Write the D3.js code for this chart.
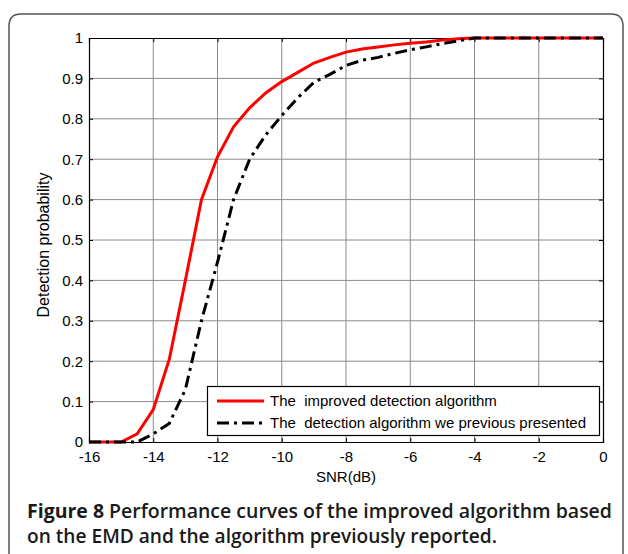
<!DOCTYPE html>
<html><head><meta charset="utf-8">
<script src="https://cdn.jsdelivr.net/npm/d3@7"></script>
<style>body{margin:0;background:#fff}svg{display:block}</style>
</head><body>
<script>
const snr = [-16,-15.5,-15,-14.5,-14,-13.5,-13,-12.5,-12,-11.5,-11,-10.5,-10,-9.5,-9,-8.5,-8,-7.5,-7,-6.5,-6,-5.5,-5,-4.5,-4,-3.5,-3,-2.5,-2,-1.5,-1,-0.5,0];
const improved = [0,0,0,0.02,0.08,0.205,0.40,0.60,0.706,0.78,0.827,0.864,0.892,0.915,0.938,0.952,0.965,0.973,0.978,0.983,0.987,0.99,0.995,0.998,1,1,1,1,1,1,1,1,1];
const previous = [0,0,0,0,0.02,0.046,0.13,0.30,0.445,0.60,0.70,0.76,0.808,0.852,0.89,0.91,0.932,0.945,0.952,0.962,0.971,0.978,0.986,0.993,1,1,1,1,1,1,1,1,1];
const xTicks = [-16,-14,-12,-10,-8,-6,-4,-2,0];
const yTicks = [0,0.1,0.2,0.3,0.4,0.5,0.6,0.7,0.8,0.9,1];
const legendLabels = ["The  improved detection algorithm","The  detection algorithm we previous presented"];

const W=628,H=554;
const svg=d3.select("body").append("svg").attr("width",W).attr("height",H);
// frame
svg.append("path").attr("d","M9,580 L9,26 Q9,14 21,14 L611,14 Q623,14 623,26 L623,580")
  .attr("fill","none").attr("stroke","#555").attr("stroke-width",1.5);

const L=89,R=603,T=38,B=442;
const x=d3.scaleLinear().domain([-16,0]).range([L,R]);
const y=d3.scaleLinear().domain([0,1]).range([B,T]);
const g=svg.append("g");
// grid
g.selectAll(".gx").data(xTicks.slice(1,-1)).enter().append("line")
 .attr("x1",d=>x(d)).attr("x2",d=>x(d)).attr("y1",T).attr("y2",B)
 .attr("stroke","#8a8a8a").attr("stroke-width",1);
g.selectAll(".gy").data(yTicks.slice(1,-1)).enter().append("line")
 .attr("y1",d=>y(d)).attr("y2",d=>y(d)).attr("x1",L).attr("x2",R)
 .attr("stroke","#8a8a8a").attr("stroke-width",1);
// axes
const ff="'Liberation Sans', Arial, sans-serif";
const xa=svg.append("g").attr("transform",`translate(0,${B})`)
 .call(d3.axisBottom(x).tickValues(xTicks).tickSize(-4).tickPadding(9).tickFormat(d=>String(d)));
const xaT=svg.append("g").attr("transform",`translate(0,${T})`)
 .call(d3.axisTop(x).tickValues(xTicks).tickSize(-4).tickFormat(""));
const ya=svg.append("g").attr("transform",`translate(${L},0)`)
 .call(d3.axisLeft(y).tickValues(yTicks).tickSize(-4).tickPadding(6).tickFormat(d=>d===0||d===1?String(d):d3.format(".1f")(d)));
const yaR=svg.append("g").attr("transform",`translate(${R},0)`)
 .call(d3.axisRight(y).tickValues(yTicks).tickSize(-4).tickFormat(""));
[xa,xaT,ya,yaR].forEach(a=>{a.attr("font-size",15).attr("font-family",ff);
 a.selectAll("path").attr("stroke","#000").attr("stroke-width",1.2);
 a.selectAll("line").attr("stroke","#000");
 a.selectAll("text").attr("fill","#000");});
// lines
const line=d3.line().x((d,i)=>x(snr[i])).y(d=>y(d));
svg.append("path").datum(improved).attr("d",line).attr("fill","none").attr("stroke","#ff0000").attr("stroke-width",3);
svg.append("path").datum(previous).attr("d",line).attr("fill","none").attr("stroke","#000").attr("stroke-width",3)
 .attr("stroke-dasharray","12,5,3,5");
// labels
svg.append("text").attr("x",(L+R)/2).attr("y",482).attr("text-anchor","middle").attr("font-family",ff).attr("font-size",15).text("SNR(dB)");
svg.append("text").attr("transform",`translate(49,${(T+B)/2+5}) rotate(-90)`).attr("text-anchor","middle").attr("font-family",ff).attr("font-size",16).text("Detection probability");
// legend
const lg=svg.append("g");
lg.append("rect").attr("x",207.5).attr("y",386.5).attr("width",392).attr("height",49).attr("fill","#fff").attr("stroke","#000").attr("stroke-width",1.2);
const ly=[401,423];
lg.append("line").attr("x1",217).attr("x2",264).attr("y1",ly[0]).attr("y2",ly[0]).attr("stroke","#f00").attr("stroke-width",3);
lg.append("line").attr("x1",217).attr("x2",264).attr("y1",ly[1]).attr("y2",ly[1]).attr("stroke","#000").attr("stroke-width",3).attr("stroke-dasharray","12,5,3,5");
lg.selectAll("text").data(legendLabels).enter().append("text").attr("x",270).attr("y",(d,i)=>ly[i]+5)
 .attr("font-family",ff).attr("font-size",15).style("white-space","pre").text(d=>d);
// caption
const cff="'Open Sans', 'Noto Sans', sans-serif";
const c1=svg.append("text").attr("x",27).attr("y",518).attr("font-family",cff).attr("font-size",19).attr("font-weight",600).attr("fill","#1a1a1a")
 .attr("textLength",585).attr("lengthAdjust","spacingAndGlyphs");
c1.append("tspan").attr("font-weight","bold").text("Figure 8");
c1.append("tspan").text(" Performance curves of the improved algorithm based");
svg.append("text").attr("x",27).attr("y",543).attr("font-family",cff).attr("font-size",19).attr("font-weight",600).attr("fill","#1a1a1a")
 .attr("textLength",470).attr("lengthAdjust","spacingAndGlyphs").text("on the EMD and the algorithm previously reported.");
</script>
</body></html>
